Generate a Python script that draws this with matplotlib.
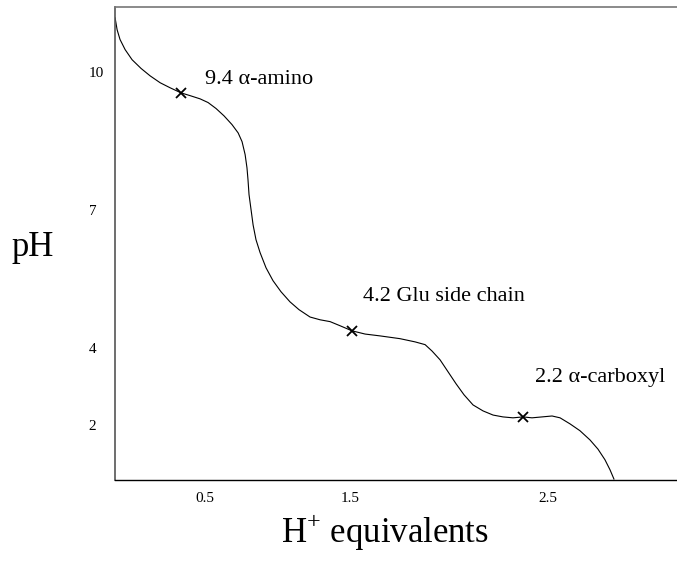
import numpy as np
import matplotlib.pyplot as plt

plt.rcParams['font.family'] = ['Liberation Serif', 'DejaVu Serif']
plt.rcParams['mathtext.fontset'] = 'custom'
plt.rcParams['mathtext.rm'] = 'Liberation Serif'

# titration curve (H+ equivalents, pH)
h_eq = [0.0, 0.012, 0.029, 0.059, 0.1, 0.153, 0.206, 0.265, 0.324, 0.388,
        0.441, 0.5, 0.547, 0.594, 0.641, 0.688, 0.724, 0.747, 0.765, 0.776,
        0.782, 0.788, 0.8, 0.812, 0.829, 0.853, 0.888, 0.929, 0.976, 1.029,
        1.082, 1.147, 1.206, 1.265, 1.324, 1.394, 1.471, 1.559, 1.676, 1.765,
        1.824, 1.865, 1.912, 1.959, 2.006, 2.053, 2.106, 2.165, 2.224, 2.282,
        2.341, 2.4, 2.453, 2.512, 2.571, 2.618, 2.676, 2.735, 2.794, 2.841,
        2.882, 2.912, 2.935]
ph = [11.17, 10.91, 10.70, 10.48, 10.26, 10.07, 9.91, 9.76, 9.65, 9.54,
      9.48, 9.41, 9.33, 9.20, 9.04, 8.85, 8.67, 8.48, 8.20, 7.91,
      7.65, 7.33, 7.0, 6.67, 6.35, 6.07, 5.74, 5.46, 5.22, 5.0,
      4.83, 4.67, 4.61, 4.57, 4.48, 4.37, 4.30, 4.26, 4.20, 4.13,
      4.07, 3.93, 3.74, 3.48, 3.22, 2.98, 2.76, 2.63, 2.54, 2.50,
      2.48, 2.50, 2.48, 2.50, 2.52, 2.48, 2.35, 2.20, 2.0, 1.80,
      1.57, 1.35, 1.15]

# pKa points
pk_x = [0.388, 1.394, 2.4]
pk_y = [9.54, 4.37, 2.5]
pk_labels = [u'9.4 \u03b1-amino', '4.2 Glu side chain', u'2.2 \u03b1-carboxyl']
label_x = [0.529, 1.459, 2.471]
label_y = [9.83, 5.11, 3.35]

xtick_pos = [0.529, 1.382, 2.547]
xtick_labels = ['0.5', '1.5', '2.5']
ytick_pos = [10, 7, 4, 2.33]
ytick_labels = ['10', '7', '4', '2']

fig = plt.figure(figsize=(6.77, 5.66), dpi=100)
ax = fig.add_axes([0.170, 0.152, 0.830, 0.836])

ax.plot(h_eq, ph, color='black', linewidth=0.8)
ax.plot(pk_x, pk_y, 'x', color='black', markersize=7.5, markeredgewidth=1.3)
for tx, ty, t in zip(label_x, label_y, pk_labels):
    ax.text(tx, ty, t, fontsize=16, ha='left', va='center')

ax.set_xlim(0, 3.306)
ax.set_ylim(1.13, 11.41)
ax.set_xticks(xtick_pos)
ax.set_xticklabels(xtick_labels)
ax.set_yticks(ytick_pos)
ax.set_yticklabels(ytick_labels, ha='left')
ax.tick_params(length=0, labelsize=11)
ax.tick_params(axis='y', pad=19)
ax.tick_params(axis='x', pad=9)

ax.spines['right'].set_visible(False)
ax.spines['top'].set_color('#777777')
ax.spines['top'].set_linewidth(1.2)
ax.spines['left'].set_color('#555555')
ax.spines['left'].set_linewidth(1.2)
ax.spines['bottom'].set_color('black')
ax.spines['bottom'].set_linewidth(1.0)

fig.text(33 / 677, 1 - 248 / 566, 'pH', fontsize=25, ha='center', va='center')
fig.text(385 / 677, 1 - 532 / 566, r'H$^{+}$ equivalents', fontsize=25,
         ha='center', va='center')

fig.savefig('out.png', dpi=100)
